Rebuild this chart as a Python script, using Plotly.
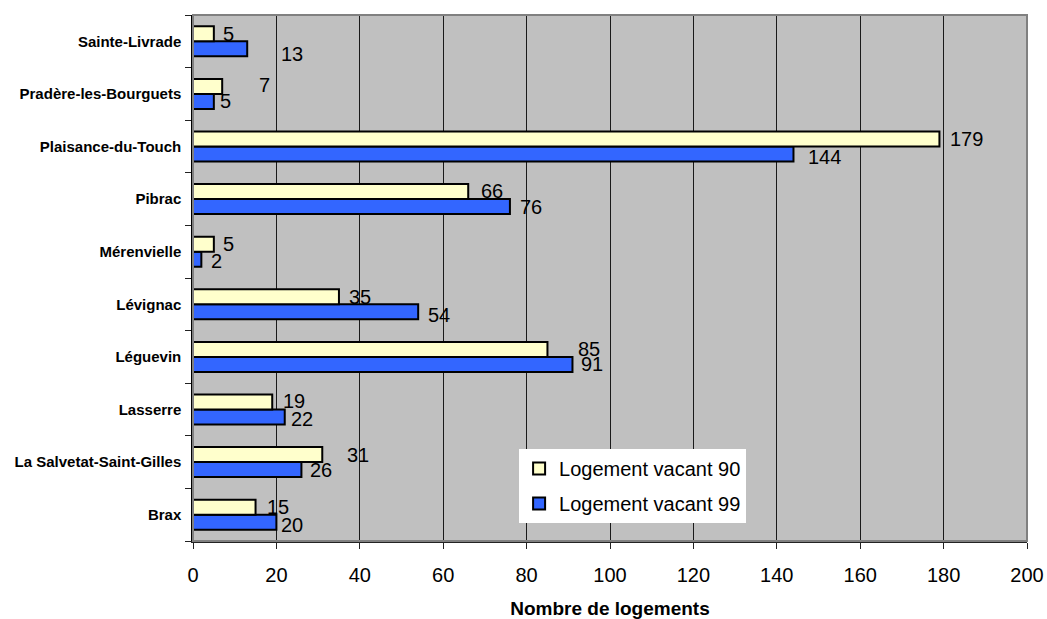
import plotly.graph_objects as go

# Communes, listed bottom-to-top as they appear on the category axis
communes = [
    "Brax",
    "La Salvetat-Saint-Gilles",
    "Lasserre",
    "Léguevin",
    "Lévignac",
    "Mérenvielle",
    "Pibrac",
    "Plaisance-du-Touch",
    "Pradère-les-Bourguets",
    "Sainte-Livrade",
]
vacant_90 = [15, 31, 19, 85, 35, 5, 66, 179, 7, 5]
vacant_99 = [20, 26, 22, 91, 54, 2, 76, 144, 5, 13]

x_ticks = list(range(0, 201, 20))

# Label placement tweaks (pixels): horizontal gap after bar end, vertical nudge
gap_90 = [10, 24, 10, 30, 9, 8, 12, 10, 36, 8]
nudge_90 = [0, 0, 1, 0, 0, 0, 1, 0, 1, 0]
gap_99 = [4, 8, 5, 8, 9, 9, 9, 14, 5, 33]
nudge_99 = [-3, 0, -2, 0, -3, -2, 0, -3, 0, -5]

YELLOW = "#FFFFCC"
BLUE = "#3366FF"
FONT = "Arial, Liberation Sans, sans-serif"

fig = go.Figure()
# 99 is drawn first so it sits in the lower slot of each group
fig.add_trace(go.Bar(
    y=communes, x=vacant_99, orientation="h", name="Logement vacant 99",
    marker=dict(color=BLUE, line=dict(color="black", width=2)),
    legendgroup="b", legendrank=2,
))
fig.add_trace(go.Bar(
    y=communes, x=vacant_90, orientation="h", name="Logement vacant 90",
    marker=dict(color=YELLOW, line=dict(color="black", width=2)),
    legendgroup="a", legendrank=1,
))

annotations = []
for c, v, g, n in zip(communes, vacant_90, gap_90, nudge_90):
    annotations.append(dict(
        x=v, y=c, xref="x", yref="y", text=str(v), showarrow=False,
        xanchor="left", yanchor="middle", xshift=g - 1, yshift=7.5 + n,
        font=dict(size=20, color="black", family=FONT),
    ))
for c, v, g, n in zip(communes, vacant_99, gap_99, nudge_99):
    annotations.append(dict(
        x=v, y=c, xref="x", yref="y", text=str(v), showarrow=False,
        xanchor="left", yanchor="middle", xshift=g - 1, yshift=-7.5 + n,
        font=dict(size=20, color="black", family=FONT),
    ))

fig.update_layout(
    width=1047, height=619,
    margin=dict(l=193, r=20, t=15, b=78),
    paper_bgcolor="white",
    plot_bgcolor="#C0C0C0",
    barmode="group",
    bargap=0.43,
    bargroupgap=0,
    font=dict(family=FONT, color="black", size=20),
    annotations=annotations,
    legend=dict(
        x=0.391, y=0.175, xanchor="left", yanchor="top",
        bgcolor="white", borderwidth=0,
        traceorder="grouped", tracegroupgap=6,
        font=dict(size=20, family=FONT),
        itemwidth=30,
    ),
    shapes=[dict(
        type="rect", xref="paper", yref="paper", x0=0, x1=1, y0=0, y1=1,
        line=dict(color="#808080", width=2), layer="above",
    )],
)

fig.update_xaxes(
    range=[0, 200], tickvals=x_ticks, ticktext=[str(t) for t in x_ticks],
    showgrid=True, gridcolor="#1a1a1a", gridwidth=1, zeroline=False,
    showline=True, linecolor="#222", linewidth=1.5,
    ticks="outside", ticklen=6, tickcolor="#222",
    tickfont=dict(size=20, family=FONT),
    ticklabelstandoff=9, automargin=False,
    title=dict(text="<b>Nombre de logements</b>", font=dict(size=19, family=FONT), standoff=17),
)
fig.update_yaxes(
    type="category", categoryorder="array", categoryarray=communes,
    showgrid=False, showline=True, linecolor="black", linewidth=1.5,
    ticks="outside", ticklen=6, tickcolor="#222", tickson="boundaries",
    tickfont=dict(size=15, family=FONT, color="black"),
    tickprefix="<b>", ticksuffix="</b>",
    ticklabelstandoff=7, automargin=False,
)

fig.write_html("out.html")
